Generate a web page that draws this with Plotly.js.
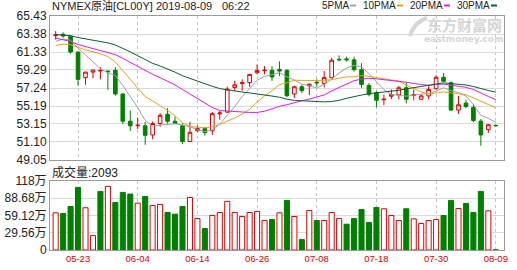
<!DOCTYPE html>
<html><head><meta charset="utf-8">
<script src="https://cdn.plot.ly/plotly-3.0.1.min.js"></script>
<style>html,body{margin:0;padding:0;background:#fff;}#chart{width:517px;height:270px;}</style>
</head><body><div id="chart"></div>
<script>
const dates = ["05-20","05-21","05-22","05-23","05-24","05-27","05-28","05-29","05-30","05-31",
"06-03","06-04","06-05","06-06","06-07","06-10","06-11","06-12","06-13","06-14",
"06-17","06-18","06-19","06-20","06-21","06-24","06-25","06-26","06-27","06-28",
"07-01","07-02","07-03","07-04","07-05","07-08","07-09","07-10","07-11","07-12",
"07-15","07-16","07-17","07-18","07-19","07-22","07-23","07-24","07-25","07-26",
"07-29","07-30","07-31","08-01","08-02","08-05","08-06","08-07","08-08","08-09"];
const tickDates = ["05-23","06-04","06-14","06-26","07-08","07-18","07-30","08-09"];

const open  = [63.20,63.34,63.12,61.33,58.42,59.05,59.17,59.17,59.24,56.56,
53.46,52.95,52.94,51.90,53.20,54.25,53.46,52.94,51.15,52.38,
52.64,52.38,54.30,54.50,57.30,57.75,57.86,58.98,59.20,59.24,
59.35,59.24,56.56,57.38,57.49,57.90,57.75,58.42,60.50,60.55,
60.44,59.32,57.53,56.71,55.90,56.30,56.45,57.27,56.40,55.96,
56.34,57.16,58.46,57.83,54.73,55.52,55.03,53.47,52.50,53.00];
const high  = [63.71,63.56,63.19,61.40,59.05,59.30,59.61,59.20,59.61,56.63,
54.69,53.87,53.39,53.43,54.39,54.95,54.00,53.20,53.39,53.00,
52.83,54.50,54.69,57.38,58.05,58.23,58.79,59.91,59.72,59.72,
60.28,59.35,57.49,57.60,57.75,58.23,59.17,60.66,60.95,60.80,
60.80,60.06,57.80,56.90,56.50,57.08,57.45,57.83,57.08,56.50,
57.45,58.68,58.95,58.00,56.34,55.89,55.40,53.73,53.17,53.05];
const low   = [62.74,62.97,61.14,57.49,57.60,58.35,58.23,57.04,56.37,53.13,
52.34,52.57,50.78,51.41,52.83,53.20,53.20,50.85,51.15,52.27,
51.82,51.90,53.65,54.40,56.93,56.93,57.38,58.79,58.79,58.05,
58.60,56.18,56.11,56.67,56.44,57.38,57.30,58.35,60.28,60.25,
59.10,57.27,56.30,55.03,55.30,55.96,55.96,55.48,55.85,55.85,
55.96,57.08,57.94,54.60,54.29,54.96,53.36,50.67,52.13,52.92];
const close = [63.28,63.15,61.33,58.23,59.05,59.28,59.24,59.09,56.56,53.46,
52.94,53.00,51.86,53.20,54.13,53.46,53.20,51.15,52.20,52.64,
52.16,54.32,54.40,57.12,57.60,57.86,58.79,59.24,59.26,58.49,
59.17,56.37,57.38,56.93,57.67,57.83,58.42,60.40,60.45,60.45,
59.32,57.64,56.52,55.85,55.96,56.50,57.27,55.96,56.50,56.34,
57.08,58.46,58.01,54.73,55.33,55.14,53.54,51.90,53.06,52.95];
// closes of the 29 sessions before 05-20 (needed for the moving averages)
const priorCloses = [64.40,63.98,64.61,63.58,63.89,63.40,64.05,63.76,64.00,65.70,
66.30,65.89,65.21,63.30,63.50,63.91,63.60,61.81,61.94,62.25,
61.40,62.12,61.70,61.66,61.04,61.78,62.02,62.87,62.76];
// volume in 万 (10k contracts)
const volume = [63.6,62.4,74.5,107.1,72.2,24.6,100.2,108.8,81.3,98.5,
95.7,80.2,91.6,76.2,77.9,64.2,61.3,74.5,89.9,53.8,
36.7,59.0,64.2,83.1,64.2,57.3,64.2,65.9,50.4,52.1,
63.6,84.8,57.3,17.8,67.6,50.4,50.4,64.2,53.8,44.1,
53.8,69.3,47.0,72.7,70.5,59.0,50.4,70.5,53.3,45.3,
50.4,52.1,59.0,84.8,71.0,79.6,64.2,100.2,67.0,0.2093];
const volUp = [1,0,0,0,1,1,0,1,0,0, 0,1,0,1,1,0,0,0,1,1, 0,1,1,1,1,1,1,1,1,0,
1,0,1,0,1,0,1,1,1,0, 0,0,0,0,1,1,1,0,1,1, 1,1,0,0,1,0,0,0,1,0];

const priceTicks = [49.05,51.10,53.15,55.19,57.24,59.29,61.33,63.38,65.43];
const priceTickText = ["49.05","51.10","53.15","55.19","57.24","59.29","61.33","63.38","65.43"];
const volTicks = [0,29.56,59.12,88.68,118];
const volTickText = ["0","29.56万","59.12万","88.68万","118万"];
const maPeriods = [5,10,20,30];
const maNames = ["5PMA","10PMA","20PMA","30PMA"];
const maColors = ["#a0a0a0","#e8a317","#e619e6","#0b5e2e"];

const RED = "#dd0000", GREEN = "#008000";
const allClose = priorCloses.concat(close);
function movingAvg(n){
  return close.map((_, i) => {
    const j = i + priorCloses.length; let s = 0;
    for (let k = j - n + 1; k <= j; k++) s += allClose[k];
    return s / n;
  });
}

const traces = [];
traces.push({type:"candlestick", x:dates, open:open, high:high, low:low, close:close,
  xaxis:"x", yaxis:"y", hoverinfo:"skip", whiskerwidth:0,
  increasing:{line:{color:RED,width:1}, fillcolor:"#ffffff"},
  decreasing:{line:{color:GREEN,width:1}, fillcolor:GREEN}, showlegend:false});
maPeriods.forEach((p, k) => {
  traces.push({type:"scatter", mode:"lines", x:dates, y:movingAvg(p), xaxis:"x", yaxis:"y",
    line:{color:maColors[k], width:1}, hoverinfo:"skip", showlegend:false, name:maNames[k]});
});
traces.push({type:"bar", x:dates, y:volume, xaxis:"x2", yaxis:"y2", hoverinfo:"skip", showlegend:false,
  marker:{color:volUp.map(u => u ? "#ffffff" : GREEN),
          line:{color:volUp.map(u => u ? RED : GREEN), width:1}}});

const L = 50, R = 504, T = 16, B = 250, H = B - T, W = R - L;
const px = v => (v - L) / W, py = v => (B - v) / H;
const textFont = "Liberation Sans, Noto Sans CJK SC, sans-serif";
const annotations = [
  {text:"NYMEX原油[CL00Y] 2019-08-09", x:px(51), y:py(6), xanchor:"left", yanchor:"middle",
   font:{family:textFont, size:11, color:"#222"}},
  {text:"06:22", x:px(221), y:py(6), xanchor:"left", yanchor:"middle",
   font:{family:textFont, size:11, color:"#222"}},
  {text:"东方财富网", x:px(503), y:py(25), xanchor:"right", yanchor:"middle",
   font:{family:"Noto Sans CJK SC", size:15, color:"#d6d6d6", weight:700}},
  {text:"eastmoney.com", x:px(504), y:py(38.5), xanchor:"right", yanchor:"middle",
   font:{family:"DejaVu Sans", size:9, color:"#d6d6d6", weight:700}},
  {text:"成交量:2093", x:px(51), y:py(172), xanchor:"left", yanchor:"middle",
   font:{family:"Liberation Sans, Noto Sans CJK SC", size:12, color:"#222"}}
];
const legendX = [321,362,409,456];
const dashX = [350,397,444,491];
const shapes = [
  {type:"path", xref:"paper", yref:"paper",
   path:"M "+px(410)+" "+py(36)+" Q "+px(414)+" "+py(22)+" "+px(427)+" "+py(18),
   line:{color:"#d6d6d6", width:4}}
];
maNames.forEach((n, k) => {
  annotations.push({text:n, x:px(legendX[k]), y:py(6), xanchor:"left", yanchor:"middle",
    font:{family:textFont, size:10, color:"#222"}});
  shapes.push({type:"rect", xref:"paper", yref:"paper", x0:px(dashX[k]), x1:px(dashX[k]+6),
    y0:py(6.5), y1:py(4.5), fillcolor:maColors[k], line:{width:0}});
});
annotations.forEach(a => { a.xref = "paper"; a.yref = "paper"; a.showarrow = false; a.borderpad = 0; });

const xCommon = {type:"category", range:[-0.76, 60.1], tickvals:tickDates, showgrid:true,
  gridcolor:"#c4c4c4", griddash:"3px,3px", gridwidth:1, showline:true, mirror:true,
  linecolor:"#9a9a9a", linewidth:1, zeroline:false, ticks:"", fixedrange:true};
const layout = {
  width:517, height:270, margin:{l:L, r:517-R, t:T, b:270-B, pad:0},
  paper_bgcolor:"#fff", plot_bgcolor:"#fff", showlegend:false, bargap:0.32,
  xaxis:Object.assign({}, xCommon, {anchor:"y", domain:[0,1], showticklabels:false, rangeslider:{visible:false}}),
  xaxis2:Object.assign({}, xCommon, {anchor:"y2", domain:[0,1], showticklabels:true, ticktext:tickDates,
    tickfont:{family:"Liberation Sans", size:9.5, color:RED}}),
  yaxis:{domain:[py(160), 1], range:[49.05, 65.43], tickvals:priceTicks, ticktext:priceTickText,
    showgrid:true, gridcolor:"#dadada", gridwidth:1, showline:true, mirror:true, linecolor:"#9a9a9a",
    zeroline:false, ticks:"", tickfont:{family:"Liberation Sans", size:12, color:"#222"}, fixedrange:true},
  yaxis2:{domain:[0, py(181)], range:[0, 118], tickvals:volTicks, ticktext:volTickText,
    showgrid:true, gridcolor:"#dadada", gridwidth:1, showline:true, mirror:true, linecolor:"#9a9a9a",
    zeroline:false, ticks:"", tickfont:{family:"Liberation Sans, Noto Sans CJK SC", size:12, color:"#222"}, fixedrange:true},
  annotations:annotations, shapes:shapes
};
Plotly.newPlot("chart", traces, layout, {staticPlot:true, displayModeBar:false});
</script></body></html>
